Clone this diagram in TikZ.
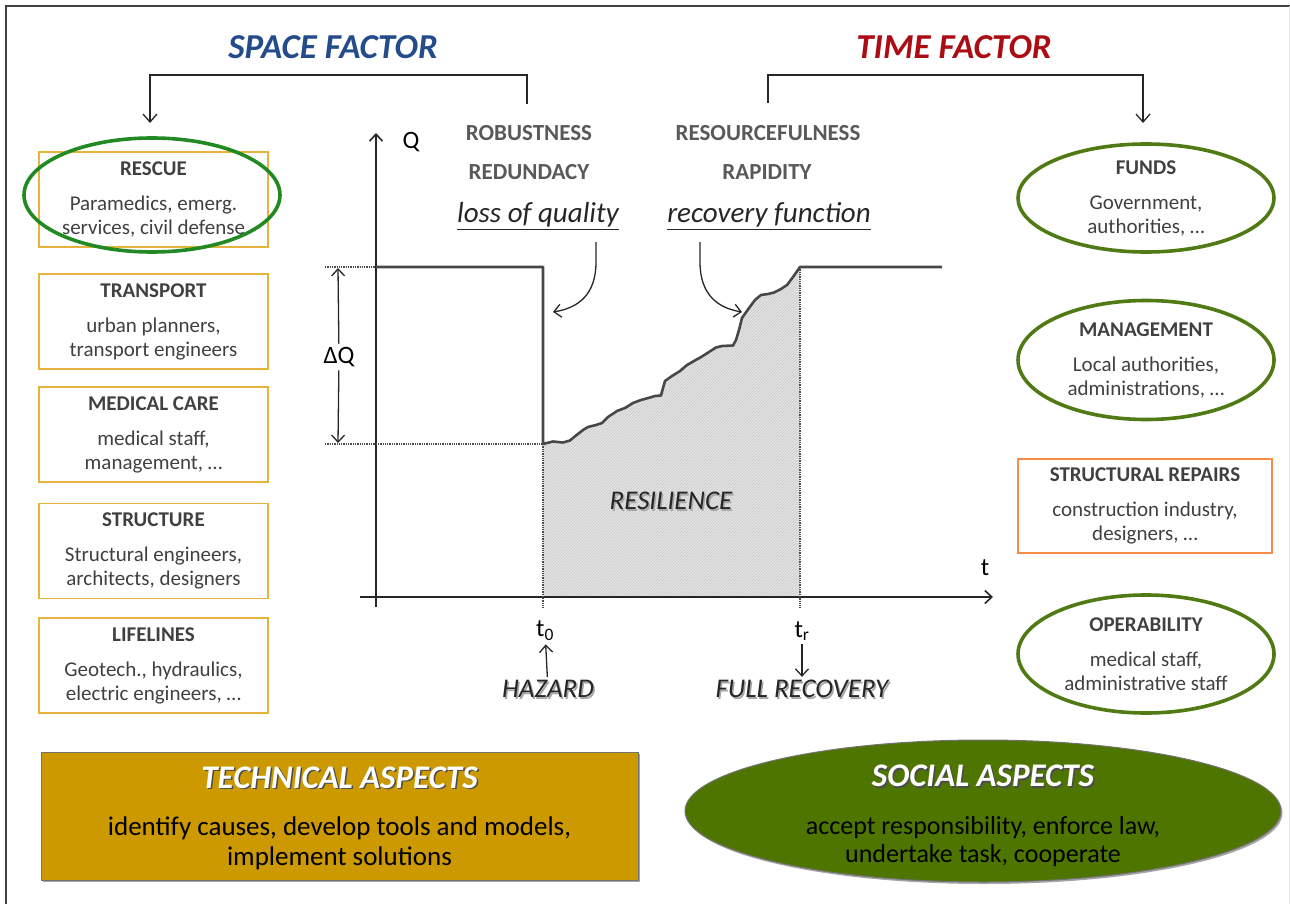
\documentclass[tikz,border=0pt]{standalone}
\usepackage{fontspec}
\setmainfont{Carlito}
\usetikzlibrary{arrows.meta,shapes.geometric,shadows,patterns}

\definecolor{spaceblue}{RGB}{36,76,138}
\definecolor{timered}{RGB}{172,12,20}
\definecolor{rescuegreen}{RGB}{34,138,34}
\definecolor{olivering}{RGB}{80,122,20}
\definecolor{boxgold}{RGB}{230,180,60}
\definecolor{repairorange}{RGB}{247,140,72}
\definecolor{techgold}{RGB}{204,153,0}
\definecolor{socialgreen}{RGB}{78,117,0}
\definecolor{labelgray}{RGB}{64,64,64}

% text with a small offset shadow: {shadow colour}{text colour}{text}
\newcommand{\shtext}[3]{\rlap{\kern1.5pt\raisebox{-1.5pt}{\color{#1}#3}}{\color{#2}#3}}

% stepped recovery of the quality curve, from t0 up to tr
\def\recoverysteps{-- (553,441.5) -- (563,442.5) -- (570,440.5) -- (576,435.5)
  -- (583,430) -- (588,427) -- (596,425) -- (602,423) -- (608,417) -- (617,411)
  -- (625,408) -- (633,403) -- (641,400) -- (650,397.5) -- (655,396) -- (661,395.5)
  -- (663,388) -- (665,381) -- (672,376) -- (680,371) -- (687,365) -- (694,361)
  -- (702,356.5) -- (709,352) -- (716,347.5) -- (722,346) -- (733,345.5)
  -- (736,340) -- (739,330) -- (742,318) -- (749,308) -- (755,300) -- (761,295)
  -- (768,294) -- (774,292.5) -- (781,289) -- (787,285) -- (793,277) -- (800,267)}

\tikzset{
  actor/.style={draw=boxgold, line width=1.6pt, minimum width=229pt, minimum height=95pt,
    align=center, text=labelgray, font=\fontsize{21}{24}\selectfont},
  ring/.style={ellipse, draw=olivering, line width=3.6pt, minimum width=256pt,
    inner sep=0pt, align=center, text=labelgray, font=\fontsize{21}{24}\selectfont},
  prop/.style={text=black!65, font=\fontsize{23}{26}\selectfont\bfseries},
  fn/.style={text=black!85, font=\fontsize{29}{32}\selectfont\itshape},
  axis/.style={line width=1.6pt, black!85, -{Straight Barb[length=7pt,width=13pt]}},
  conn/.style={line width=1.3pt, black!85, -{Straight Barb[length=7pt,width=13pt]}},
  quality/.style={line width=2.6pt, black!72, line join=round},
  guide/.style={line width=1.3pt, black!70, densely dotted},
  event/.style={font=\fontsize{27}{30}\selectfont\itshape},
  factor/.style={font=\fontsize{35}{38}\selectfont\bfseries\itshape},
}

\begin{document}
\begin{tikzpicture}[x=1pt,y=-1pt]
\useasboundingbox (0,0) rectangle (1290,904);

% frame
\draw[black!75, line width=1.8pt] (6,904) -- (6,6) -- (1290,6);
\draw[black!10, line width=1pt] (1289,6) -- (1289,904);

% factors
\node[factor, text=spaceblue] (space) at (333,47) {SPACE FACTOR};
\node[factor, text=timered] (time) at (954,47) {TIME FACTOR};

% left column
\foreach \name/\yc/\title/\lineA/\lineB in {
    rescue/199.5/RESCUE/{Paramedics, emerg.}/{services, civil defense},
    transport/321.5/TRANSPORT/{urban planners,}/{transport engineers},
    medical/434.5/MEDICAL CARE/{medical staff,}/{management, …},
    structure/551/STRUCTURE/{Structural engineers,}/{architects, designers},
    lifelines/665.5/LIFELINES/{Geotech., hydraulics,}/{electric engineers, …}}
{   \node[actor] (\name) at (153.5,\yc) {{\bfseries\fontsize{21}{24}\selectfont\title}\\[11pt]\lineA\\\lineB};
}
\draw[rescuegreen, line width=3.6pt] (152,195) ellipse [x radius=128, y radius=57];

% right column
\node[ring, minimum height=108pt] (funds) at (1146,198)
  {{\bfseries\fontsize{21}{24}\selectfont FUNDS}\\[11pt]Government,\\authorities, …};
\node[ring, minimum height=119pt] (management) at (1146,360)
  {{\bfseries\fontsize{21}{24}\selectfont MANAGEMENT}\\[11pt]Local authorities,\\administrations, …};
\node[actor, draw=repairorange, minimum width=254pt, minimum height=94pt] (repairs) at (1145,506)
  {{\bfseries\fontsize{21}{24}\selectfont STRUCTURAL REPAIRS}\\[11pt]construction industry,\\designers, …};
\node[ring, minimum height=118pt] (operability) at (1146,654)
  {{\bfseries\fontsize{21}{24}\selectfont OPERABILITY}\\[11pt]medical staff,\\administrative staff};

% brackets from the properties to the columns
\coordinate (sf-from) at (527,104);
\coordinate (sf-to) at (150,123);
\coordinate (tf-from) at (768,103);
\coordinate (tf-to) at (1143,123);
\draw[conn, -{Straight Barb[length=8pt,width=14pt]}] (sf-from) -- ++(0,-29) -| (sf-to);
\draw[conn, -{Straight Barb[length=8pt,width=14pt]}] (tf-from) -- ++(0,-28) -| (tf-to);

% properties
\node[prop] (robust) at (529,133) {ROBUSTNESS};
\node[prop] (redund) at (529,172) {REDUNDACY};
\node[fn] (lossq) at (538,216) {\underline{loss of quality}};
\node[prop] (resource) at (768,133) {RESOURCEFULNESS};
\node[prop] (rapid) at (767,172) {RAPIDITY};
\node[fn] (recov) at (769,216) {\underline{recovery function}};

% resilience area
\fill[black!10] (543,597) -- (543,444) \recoverysteps -- (800,597) -- cycle;
\fill[pattern=north east lines, pattern color=black!22] (543,597) -- (543,444) \recoverysteps -- (800,597) -- cycle;
\node[event] (resil) at (671,502) {\shtext{black!35}{black!85}{RESILIENCE}};

% axes
\coordinate (qtip) at (376,133);
\coordinate (ttip) at (993,597);
\draw[axis] (376,607) -- (qtip);
\draw[axis] (360,597) -- (ttip);
\node[font=\fontsize{25}{28}\selectfont] (qlab) at (411,142) {Q};
\node[font=\fontsize{25}{28}\selectfont] (tlab) at (985,568) {t};

% guides
\draw[guide] (325,267) -- (376,267);
\draw[guide] (325,444) -- (543,444);
\draw[guide] (543,444) -- (543,608);
\draw[guide] (800,267) -- (800,608);

% quality curve
\draw[quality] (376,267) -- (543,267) -- (543,444) \recoverysteps -- (942,267);

% loss of quality
\coordinate (qtop) at (338,268);
\coordinate (qbot) at (338,443);
\node[font=\fontsize{25}{28}\selectfont] (dq) at (339,357) {ΔQ};
\draw[conn] (dq) -- (qtop);
\draw[conn] (dq) -- (qbot);

% pointers to the curve
\coordinate (loss-from) at (596,242);
\coordinate (loss-to) at (553,312);
\coordinate (recov-from) at (700,242);
\coordinate (recov-to) at (742,312);
\draw[conn] (loss-from) -- (596,262) .. controls (596,295) and (578,308) .. (loss-to);
\draw[conn] (recov-from) -- (700,262) .. controls (700,295) and (718,308) .. (recov-to);

% times
\node[font=\fontsize{25}{28}\selectfont] (t0) at (545,631) {t\textsubscript{0}};
\node[font=\fontsize{25}{28}\selectfont] (tr) at (802,631) {t\textsubscript{r}};
\node[event] (hazard) at (548,690) {\shtext{black!35}{black!85}{HAZARD}};
\node[event] (fullrec) at (802,690) {\shtext{black!35}{black!85}{FULL RECOVERY}};
\draw[conn] (hazard) -- (t0);
\draw[conn] (tr) -- (fullrec);

% aspects
\node[draw=black!55, line width=1pt, fill=techgold, minimum width=597pt, minimum height=128pt,
  drop shadow={shadow xshift=1.5pt, shadow yshift=-2pt, fill=black!70, opacity=.5}] (tech) at (339.5,816) {};
\node[align=center, font=\fontsize{27}{30}\selectfont] (techtext) at (339.5,818)
  {{\fontsize{33}{30}\selectfont\bfseries\itshape\shtext{black!70}{white}{TECHNICAL ASPECTS}}\\[17pt]
   identify causes, develop tools and models,\\implement solutions};
\node[ellipse, draw=black!55, line width=1pt, fill=socialgreen, minimum width=596pt, minimum height=142pt,
  drop shadow={shadow xshift=1.5pt, shadow yshift=-2pt, fill=black!70, opacity=.5}] (social) at (983,811) {};
\node[align=center, font=\fontsize{26}{28}\selectfont] (socialtext) at (983,816)
  {{\fontsize{33}{30}\selectfont\bfseries\itshape\shtext{black!70}{white}{SOCIAL ASPECTS}}\\[20pt]
   accept responsibility, enforce law,\\undertake task, cooperate};
\end{tikzpicture}
\end{document}
